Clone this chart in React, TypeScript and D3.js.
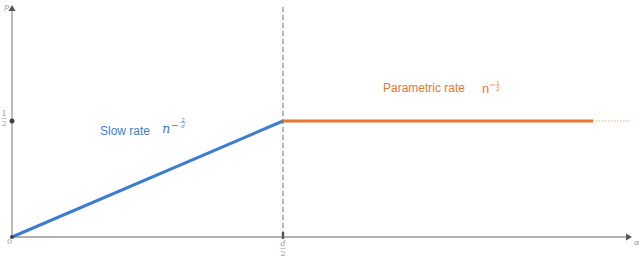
import React from "react";
import * as d3 from "d3";

const slowAlpha = [0, 1];
const slowP = [0, 0.5];
const paramAlpha = [1, 2.144];
const paramP = [0.5, 0.5];
const extAlpha = [2.144, 2.28];
const extP = [0.5, 0.5];
const criticalAlpha = 1;
const halfP = 0.5;

const W = 640, H = 256;
const x = d3.scaleLinear().domain([0, 2.288]).range([12, 632]);
const y = d3.scaleLinear().domain([0, 1]).range([237, 5]);
const line = d3.line<[number, number]>().x(d => x(d[0])).y(d => y(d[1]));
const zip = (a: number[], b: number[]) => a.map((v, i) => [v, b[i]] as [number, number]);

const BLUE = "#3c7dd0";
const ORANGE = "#e8772e";
const AX = "#999";
const SERIF = "'DejaVu Serif', 'Liberation Serif', serif";
const SANS = "'Liberation Sans', Arial, sans-serif";

export default function App() {
  const x0 = x(0), y0 = y(0);
  const xc = x(criticalAlpha), yh = y(halfP);
  return (
    <svg width={W} height={H} style={{ position: "absolute", left: 0, top: 0 }}>
      {/* axes */}
      <line x1={x0} y1={y0} x2={628} y2={y0} stroke={AX} strokeWidth={1.3} />
      <path d={`M${632},${y0} L${626},${y0 - 3.5} L${626},${y0 + 3.5} Z`} fill="#555" />
      <line x1={x0} y1={y0} x2={x0} y2={10} stroke={AX} strokeWidth={1.3} />
      <path d={`M${x0},5 L${x0 - 3.5},11 L${x0 + 3.5},11 Z`} fill="#555" />
      {/* dashed vertical */}
      <line x1={xc} y1={7} x2={xc} y2={y0} stroke="#888" strokeWidth={1.2} strokeDasharray="5,3" />
      {/* lines */}
      <path d={line(zip(slowAlpha, slowP)) || ""} stroke={BLUE} strokeWidth={3} fill="none" />
      <path d={line(zip(paramAlpha, paramP)) || ""} stroke={ORANGE} strokeWidth={3} fill="none" />
      <path d={line(zip(extAlpha, extP)) || ""} stroke={ORANGE} strokeOpacity={0.6} strokeWidth={1.2} strokeDasharray="1.5,1.5" fill="none" />
      {/* points */}
      <circle cx={x0} cy={yh} r={2.5} fill="#444" />
      <circle cx={x0} cy={y0} r={2} fill="#444" />
      <rect x={xc - 1.2} y={y0 - 5} width={2.4} height={7} fill="#555" />
      {/* labels */}
      <text x={4} y={9} fontFamily={SERIF} fontStyle="italic" fontSize={8} fill="#999">p</text>
      <text x={4} y={116} fontFamily={SERIF} fontSize={8} fill="#999" textAnchor="middle">1</text>
      <line x1={1.5} y1={118.5} x2={6.5} y2={118.5} stroke="#999" strokeWidth={0.6} />
      <text x={4} y={126} fontFamily={SERIF} fontSize={8} fill="#999" textAnchor="middle">2</text>
      <text x={7} y={244} fontFamily={SERIF} fontSize={8} fill="#999">0</text>
      <text x={xc} y={246} fontFamily={SERIF} fontStyle="italic" fontSize={8} fill="#999" textAnchor="middle">d</text>
      <line x1={xc - 2.5} y1={248.5} x2={xc + 2.5} y2={248.5} stroke="#999" strokeWidth={0.6} />
      <text x={xc} y={255.5} fontFamily={SERIF} fontSize={8} fill="#999" textAnchor="middle">2</text>
      <text x={634} y={245} fontFamily={SERIF} fontStyle="italic" fontSize={8} fill="#999">α</text>
      <text x={100} y={135} fontFamily={SANS} fontSize={12} fill={BLUE}>Slow rate</text>
      <text x={162} y={133} fontFamily={SERIF} fontStyle="italic" fontSize={13} fill={BLUE}>n</text>
      <line x1={172} y1={125.5} x2={178} y2={125.5} stroke={BLUE} strokeWidth={0.8} />
      <text x={183} y={121.5} fontFamily={SERIF} fontSize={5.5} fill={BLUE} textAnchor="middle">2</text>
      <line x1={180.5} y1={122.5} x2={185.5} y2={122.5} stroke={BLUE} strokeWidth={0.5} />
      <text x={183} y={127.5} fontFamily={SERIF} fontStyle="italic" fontSize={5.5} fill={BLUE} textAnchor="middle">d</text>
      <text x={383} y={92} fontFamily={SANS} fontSize={12} fill={ORANGE}>Parametric rate</text>
      <text x={482} y={93} fontFamily={SANS} fontSize={13} fill={ORANGE}>n</text>
      <line x1={490} y1={85} x2={495} y2={85} stroke={ORANGE} strokeWidth={0.8} />
      <text x={498} y={85} fontFamily={SANS} fontSize={6} fill={ORANGE} textAnchor="middle">1</text>
      <line x1={495.5} y1={86} x2={500.5} y2={86} stroke={ORANGE} strokeWidth={0.5} />
      <text x={498} y={91} fontFamily={SANS} fontSize={6} fill={ORANGE} textAnchor="middle">2</text>
    </svg>
  );
}
